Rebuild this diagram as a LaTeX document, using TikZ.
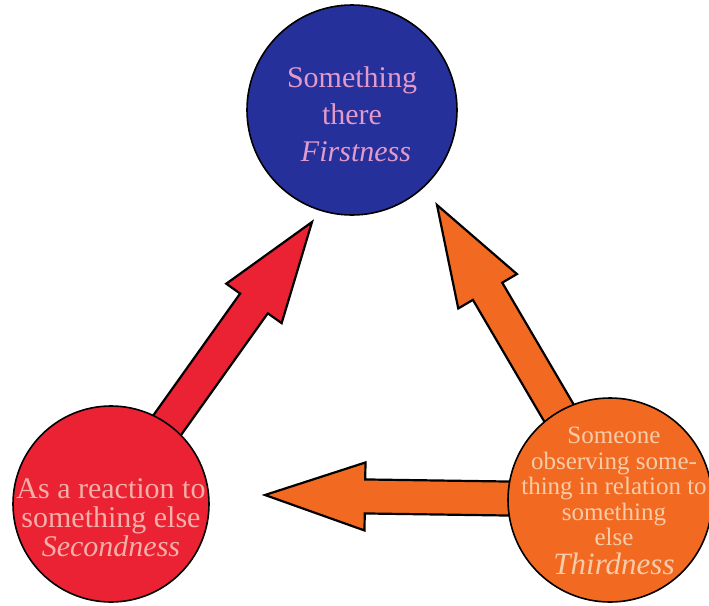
\documentclass[tikz,border=0pt]{standalone}
\usepackage{fontspec}
\setmainfont{Liberation Serif}
\usetikzlibrary{calc}

\definecolor{firstblue}{HTML}{26309A}
\definecolor{secondred}{HTML}{EA2233}
\definecolor{thirdorange}{HTML}{F26A22}
\definecolor{firsttext}{HTML}{E29ACB}
\definecolor{secondtext}{HTML}{F4B0A8}
\definecolor{thirdtext}{HTML}{F8CCA8}

\tikzset{
  phase/.style={circle, draw=black, line width=1.6pt, inner sep=0pt, align=center},
  fatarrow/.style={draw=black, line width=2.2pt, line join=miter},
}

% block arrow: tail node, tip coordinate, fill colour
\newcommand{\blockarrow}[3]{%
  \coordinate (neck) at ($(#2)!100pt!(#1)$);
  \draw[fatarrow, fill=#3]
    ($(#1)!17pt!90:(#2)$) -- ($(neck)!17pt!-90:(#1)$) -- ($(neck)!34pt!-90:(#1)$)
    -- (#2) -- ($(neck)!34pt!90:(#1)$) -- ($(neck)!17pt!90:(#1)$)
    -- ($(#1)!17pt!-90:(#2)$) -- cycle;
}

\begin{document}
\begin{tikzpicture}[x=1pt, y=-1pt]
  \useasboundingbox (0,0) rectangle (709,605);
  \coordinate (first) at (352,110);
  \coordinate (second) at (111,504);
  \coordinate (third) at (610,500);
  \coordinate (tipA) at (312,222);
  \coordinate (tipB) at (437,205);
  \coordinate (tipC) at (265,495);

  \blockarrow{second}{tipA}{secondred}
  \blockarrow{third}{tipB}{thirdorange}
  \blockarrow{third}{tipC}{thirdorange}

  \node[phase, fill=firstblue, minimum size=210pt] (firstness) at (first) {};
  \node[text=firsttext, align=center, font=\fontsize{30}{37}\selectfont]
        (firstlabel) at ($(first)+(0,4)$) {Something\\there\\\hspace*{8pt}\textit{Firstness}};
  \node[phase, fill=secondred, minimum size=196pt] (secondness) at (second) {};
  \node[text=secondtext, align=center, font=\fontsize{30}{29}\selectfont, inner sep=0pt]
        (secondlabel) at ($(second)+(0,14)$) {As a reaction to\\something else\\\textit{Secondness}};
  \node[phase, fill=thirdorange, minimum size=204pt] (thirdness) at (third) {};
  \node[text=thirdtext, align=center, font=\fontsize{25}{25.5}\selectfont, inner sep=0pt]
        (thirdlabel) at ($(third)+(4,1)$)
        {Someone\\observing some-\\thing in relation to\\something\\else\\[3pt]{\fontsize{31}{30}\selectfont\textit{Thirdness}}};
\end{tikzpicture}
\end{document}
